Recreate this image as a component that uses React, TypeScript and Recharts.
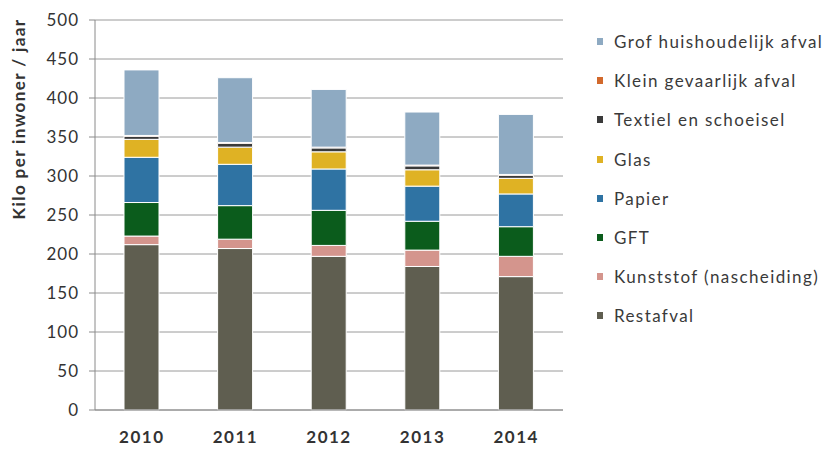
import { BarChart, Bar, XAxis, YAxis, CartesianGrid, Legend } from "recharts"

const years = ["2010", "2011", "2012", "2013", "2014"]

const restafval = [212, 207, 197, 184, 171]
const kunststof = [11, 12, 14, 21, 26]
const gft = [43, 43, 45, 37, 38]
const papier = [58, 53, 53, 45, 42]
const glas = [23, 22, 22, 21, 20]
const textiel = [4, 5, 5, 5, 4]
const kleinGevaarlijk = [1, 1, 1, 1, 1]
const grofHuishoudelijk = [84, 83, 74, 68, 77]

const yTicks = [0, 50, 100, 150, 200, 250, 300, 350, 400, 450, 500]

// bottom of the stack first
const series = [
  { key: "Restafval", values: restafval, color: "#5f5e50" },
  { key: "Kunststof (nascheiding)", values: kunststof, color: "#d4958d" },
  { key: "GFT", values: gft, color: "#0b5c1c" },
  { key: "Papier", values: papier, color: "#2f73a3" },
  { key: "Glas", values: glas, color: "#dfb224" },
  { key: "Textiel en schoeisel", values: textiel, color: "#3a3a3a" },
  { key: "Klein gevaarlijk afval", values: kleinGevaarlijk, color: "#d2692c" },
  { key: "Grof huishoudelijk afval", values: grofHuishoudelijk, color: "#8eaac2" },
]

const data = years.map((year, i) => {
  const row: Record<string, string | number> = { year }
  series.forEach((s) => {
    row[s.key] = s.values[i]
  })
  return row
})

const font = "Lato, 'Open Sans', sans-serif"

function LegendBox() {
  return (
    <div style={{ fontFamily: font, fontSize: 17, letterSpacing: 1.4, color: "#3a3a3a" }}>
      {[...series].reverse().map((s) => (
        <div key={s.key} style={{ display: "flex", alignItems: "center", height: 39.2, whiteSpace: "nowrap" }}>
          <span style={{ width: 6, height: 7, background: s.color, marginRight: 11, display: "inline-block" }} />
          {s.key}
        </div>
      ))}
    </div>
  )
}

function YLabel() {
  return (
    <text
      x={25}
      y={119}
      transform="rotate(-90 25 119)"
      textAnchor="middle"
      fontFamily={font}
      fontSize={17}
      fontWeight="bold"
      letterSpacing={1.4}
      fill="#333"
    >
      Kilo per inwoner / jaar
    </text>
  )
}

export default function App() {
  return (
    <div style={{ position: "absolute", left: 0, top: 0, background: "#fff" }}>
      <BarChart width={826} height={450} data={data} margin={{ top: 20, right: 263, left: 0, bottom: 0 }}>
        <CartesianGrid vertical={false} stroke="#9a9a9a" />
        <XAxis
          dataKey="year"
          height={40}
          tickLine={false}
          axisLine={{ stroke: "#8a8a8a" }}
          tickMargin={15}
          tick={{ fontFamily: font, fontSize: 17, fontWeight: "bold", letterSpacing: 1.5, fill: "#333" }}
        />
        <YAxis
          width={95}
          domain={[0, 500]}
          ticks={yTicks}
          interval={0}
          tickSize={6}
          tickMargin={10}
          axisLine={{ stroke: "#8a8a8a" }}
          tickLine={{ stroke: "#8a8a8a" }}
          tick={{ fontFamily: font, fontSize: 17, letterSpacing: 1, fill: "#333" }}
          label={<YLabel />}
        />
        <Legend
          layout="vertical"
          align="center"
          verticalAlign="middle"
          wrapperStyle={{ left: 597, top: 22, width: 229 }}
          content={() => <LegendBox />}
        />
        {series.map((s) => (
          <Bar
            key={s.key}
            dataKey={s.key}
            stackId="afval"
            fill={s.color}
            stroke="#fff"
            strokeWidth={1}
            barSize={35}
            isAnimationActive={false}
          />
        ))}
      </BarChart>
    </div>
  )
}
